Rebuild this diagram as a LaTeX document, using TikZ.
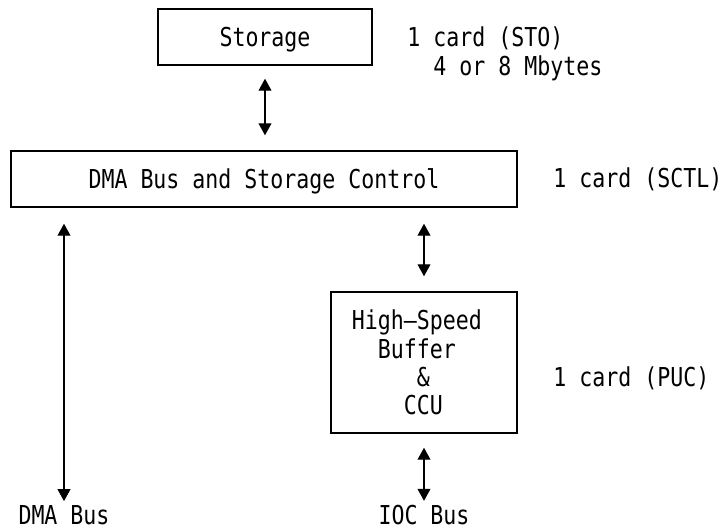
\documentclass[tikz,border=0pt]{standalone}
\usepackage{fontspec}
\newfontfamily\termfont[FakeStretch=0.83]{DejaVu Sans Mono}
\usetikzlibrary{arrows.meta, positioning}
\tikzset{
  unit/.style={draw, line width=1pt, font=\termfont\fontsize{18.5pt}{20.2pt}\selectfont},
  oneline/.style={unit, text depth=0pt},
  note/.style={inner sep=0pt, font=\termfont\fontsize{18.5pt}{20.5pt}\selectfont},
  biarrow/.style={line width=1pt, {Triangle[length=0.3cm,width=0.32cm]}-{Triangle[length=0.3cm,width=0.32cm]}}
}

\begin{document}
\begin{tikzpicture}[x=0.025cm, y=-0.025cm]
\useasboundingbox (0,0) rectangle (724,529);
% cards
\node[oneline, minimum width=5.35cm, minimum height=1.4cm] (sto) at (265,37) {Storage};
\node[oneline, minimum width=12.65cm, minimum height=1.4cm] (sctl) at (264,179) {DMA Bus and Storage Control};
\node[unit, align=left, text width=3.6cm, inner xsep=0.525cm, minimum height=3.525cm] (hsb) at (424,362.5)
  {High–Speed\\\phantom{xx}Buffer\\\phantom{xxxxx}\&\\\phantom{xxxx}CCU};
% card counts
\node[note, anchor=west, align=left] (stolbl) at (407,54) {1 card (STO)\\\phantom{xx}4 or 8 Mbytes};
\node[note, anchor=base west] (sctllbl) at (553,187) {1 card (SCTL)};
\node[note, anchor=base west] (puclbl) at (553,386) {1 card (PUC)};
% buses
\node[note, anchor=base] (dmabus) at (64,524) {DMA Bus};
\node[note, anchor=base] (iocbus) at (424,524) {IOC Bus};
\draw[biarrow, shorten <=0.325cm, shorten >=0.375cm] (sto.south) -- (sto.south |- sctl.north);
\draw[biarrow, shorten <=0.4cm, shorten >=0.375cm] (sctl.south -| hsb.north) -- (hsb.north);
\draw[biarrow, shorten <=0.35cm, shorten >=0.09cm] (hsb.south) -- (iocbus.north);
\draw[biarrow, shorten <=0.4cm, shorten >=0.09cm] (sctl.south -| dmabus.north) -- (dmabus.north);
\end{tikzpicture}
\end{document}
